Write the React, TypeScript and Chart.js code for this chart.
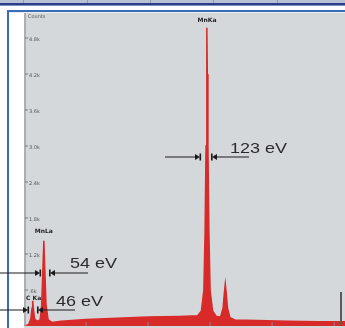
import React, { useEffect, useRef } from "react";
import { Chart, registerables } from "chart.js";

Chart.register(...registerables);

// Spectrum: energy (keV) and counts (thousands)
const energyKeV = [0.0, 0.15, 0.22, 0.26, 0.28, 0.3, 0.34, 0.42, 0.52, 0.57, 0.61, 0.64, 0.67, 0.71, 0.78, 0.9, 1.2, 2.0, 3.0, 4.0, 5.0, 5.6, 5.72, 5.8, 5.84, 5.87, 5.89, 5.9, 5.91, 5.93, 5.96, 6.0, 6.08, 6.2, 6.34, 6.42, 6.46, 6.49, 6.52, 6.56, 6.64, 6.8, 7.5, 8.5, 9.5, 10.35];
const countsK = [0, 0.02, 0.12, 0.3, 0.42, 0.3, 0.12, 0.08, 0.1, 0.35, 0.95, 1.42, 0.95, 0.35, 0.1, 0.06, 0.08, 0.11, 0.13, 0.15, 0.16, 0.17, 0.25, 0.6, 1.6, 3.0, 4.2, 4.97, 4.2, 3.0, 1.6, 0.6, 0.25, 0.16, 0.15, 0.3, 0.55, 0.7, 0.55, 0.3, 0.14, 0.1, 0.09, 0.08, 0.07, 0.07];

const yTickValues = [0.6, 1.2, 1.8, 2.4, 3.0, 3.6, 4.2, 4.8];
const yTickLabels = [".6k", "1.2k", "1.8k", "2.4k", "3.0k", "3.6k", "4.2k", "4.8k"];
const xTickValues = [2, 4, 6, 8, 10];

const peakNames = ["C Ka", "MnLa", "MnKa"];
const peakEnergies = [0.28, 0.64, 5.9];
const peakHeights = [0.42, 1.42, 4.97];

const fwhmTexts = ["46 eV", "54 eV", "123 eV"];

const xMax = 10.35;
const yMax = 5.217;

const RED = "#d92a2a";

function arrowRight(ctx: CanvasRenderingContext2D, x0: number, x1: number, y: number) {
  ctx.beginPath();
  ctx.moveTo(x0, y);
  ctx.lineTo(x1 - 4, y);
  ctx.stroke();
  ctx.beginPath();
  ctx.moveTo(x1 - 5, y - 3);
  ctx.lineTo(x1, y);
  ctx.lineTo(x1 - 5, y + 3);
  ctx.closePath();
  ctx.fill();
  ctx.fillRect(x1 - 0.5, y - 3.5, 1.6, 7);
}

function arrowLeft(ctx: CanvasRenderingContext2D, xBar: number, x1: number, y: number) {
  ctx.fillRect(xBar - 1, y - 3.5, 1.6, 7);
  ctx.beginPath();
  ctx.moveTo(xBar + 5, y - 3);
  ctx.lineTo(xBar, y);
  ctx.lineTo(xBar + 5, y + 3);
  ctx.closePath();
  ctx.fill();
  ctx.beginPath();
  ctx.moveTo(xBar + 4, y);
  ctx.lineTo(x1, y);
  ctx.stroke();
}

const framePlugin = {
  id: "frame",
  beforeDraw(chart: any) {
    const ctx: CanvasRenderingContext2D = chart.ctx;
    const W = chart.width;
    const H = chart.height;
    const { left, top } = chart.chartArea;
    ctx.save();
    ctx.fillStyle = "#ffffff";
    ctx.fillRect(0, 0, W, H);
    // top window band
    ctx.fillStyle = "#b8c1d1";
    ctx.fillRect(0, 0, W, 3);
    ctx.fillStyle = "#8e9bb8";
    [23, 87, 150, 213, 277].forEach((x) => ctx.fillRect(x, 0, 1, 3));
    ctx.fillStyle = "#2a3d86";
    ctx.fillRect(0, 3, W, 2);
    ctx.fillStyle = "#7b93c8";
    ctx.fillRect(0, 5, W, 1);
    // blue frame
    ctx.fillStyle = "#3b6cb8";
    ctx.fillRect(7, 10, W - 7, 2);
    ctx.fillRect(7, 10, 2, H - 10);
    ctx.fillStyle = "#e9eef5";
    ctx.fillRect(9, 12, W - 9, 1);
    // plot background
    ctx.fillStyle = "#d4d8db";
    ctx.fillRect(left, top, W - left, H - top);
    ctx.restore();
  },
  afterDatasetsDraw(chart: any) {
    const ctx: CanvasRenderingContext2D = chart.ctx;
    const xs = chart.scales.x;
    const ys = chart.scales.y;
    const { left, top, bottom } = chart.chartArea;
    ctx.save();
    // y axis line
    ctx.strokeStyle = "#9ea3a8";
    ctx.lineWidth = 1.5;
    ctx.beginPath();
    ctx.moveTo(left + 1, top);
    ctx.lineTo(left + 1, bottom);
    ctx.stroke();
    // y ticks + labels
    ctx.lineWidth = 1;
    ctx.strokeStyle = "#777";
    ctx.fillStyle = "#555";
    ctx.font = "5px 'DejaVu Sans'";
    ctx.textBaseline = "middle";
    ctx.textAlign = "left";
    yTickValues.forEach((v, i) => {
      const py = ys.getPixelForValue(v);
      ctx.beginPath();
      ctx.moveTo(left + 1, py);
      ctx.lineTo(left + 4, py);
      ctx.stroke();
      ctx.fillText(yTickLabels[i], left + 5, py + 2);
    });
    ctx.fillText("Counts", left + 4, top + 4);
    // x ticks
    ctx.strokeStyle = "#888";
    xTickValues.forEach((v) => {
      const px = xs.getPixelForValue(v);
      ctx.beginPath();
      ctx.moveTo(px, bottom - 4);
      ctx.lineTo(px, bottom);
      ctx.stroke();
    });
    // cursor marker
    ctx.fillStyle = "#5a5a5a";
    ctx.fillRect(340, 292, 2, bottom - 293);

    // peak labels
    ctx.fillStyle = "#222";
    ctx.font = "bold 6px 'DejaVu Sans'";
    ctx.textAlign = "center";
    ctx.textBaseline = "alphabetic";
    const labelOffsets = [1, 8, 6];
    peakNames.forEach((n, i) => {
      const px = xs.getPixelForValue(peakEnergies[i]);
      const py = ys.getPixelForValue(peakHeights[i]);
      ctx.fillText(n, px + (i === 0 ? 1 : 0), py - labelOffsets[i]);
    });

    // FWHM arrows
    ctx.strokeStyle = "#1a1a1a";
    ctx.fillStyle = "#1a1a1a";
    ctx.lineWidth = 1;
    arrowRight(ctx, 165, 200, 157);
    arrowLeft(ctx, 212, 249, 157);
    arrowRight(ctx, 0, 40, 273);
    arrowLeft(ctx, 50, 88, 273);
    arrowRight(ctx, 0, 28, 310);
    arrowLeft(ctx, 38, 75, 310);

    ctx.fillStyle = "#2b2b2b";
    ctx.font = "15px 'Liberation Sans'";
    ctx.textAlign = "left";
    const tpos = [
      [56, 306],
      [70, 268],
      [230, 153],
    ];
    fwhmTexts.forEach((t, i) => {
      ctx.save();
      ctx.translate(tpos[i][0], tpos[i][1]);
      ctx.scale(1.2, 1);
      ctx.fillText(t, 0, 0);
      ctx.restore();
    });
    ctx.restore();
  },
};

export default function App() {
  const ref = useRef<HTMLCanvasElement | null>(null);
  useEffect(() => {
    document.body.style.margin = "0";
    if (!ref.current) return;
    const chart = new Chart(ref.current, {
      type: "line",
      data: {
        datasets: [
          {
            data: energyKeV.map((e, i) => ({ x: e, y: countsK[i] })),
            borderColor: RED,
            backgroundColor: RED,
            borderWidth: 1.5,
            pointRadius: 0,
            tension: 0,
            fill: "origin",
          },
        ],
      },
      options: {
        animation: false,
        responsive: false,
        layout: { padding: { left: 24, top: 13, right: 0, bottom: 2 } },
        plugins: { legend: { display: false }, tooltip: { enabled: false } },
        scales: {
          x: { type: "linear", min: 0, max: xMax, display: false },
          y: { min: 0, max: yMax, display: false },
        },
      },
      plugins: [framePlugin],
    });
    return () => chart.destroy();
  }, []);
  return (
    <div style={{ width: 345, height: 328, overflow: "hidden" }}>
      <canvas ref={ref} width={345} height={328} style={{ display: "block" }} />
    </div>
  );
}
